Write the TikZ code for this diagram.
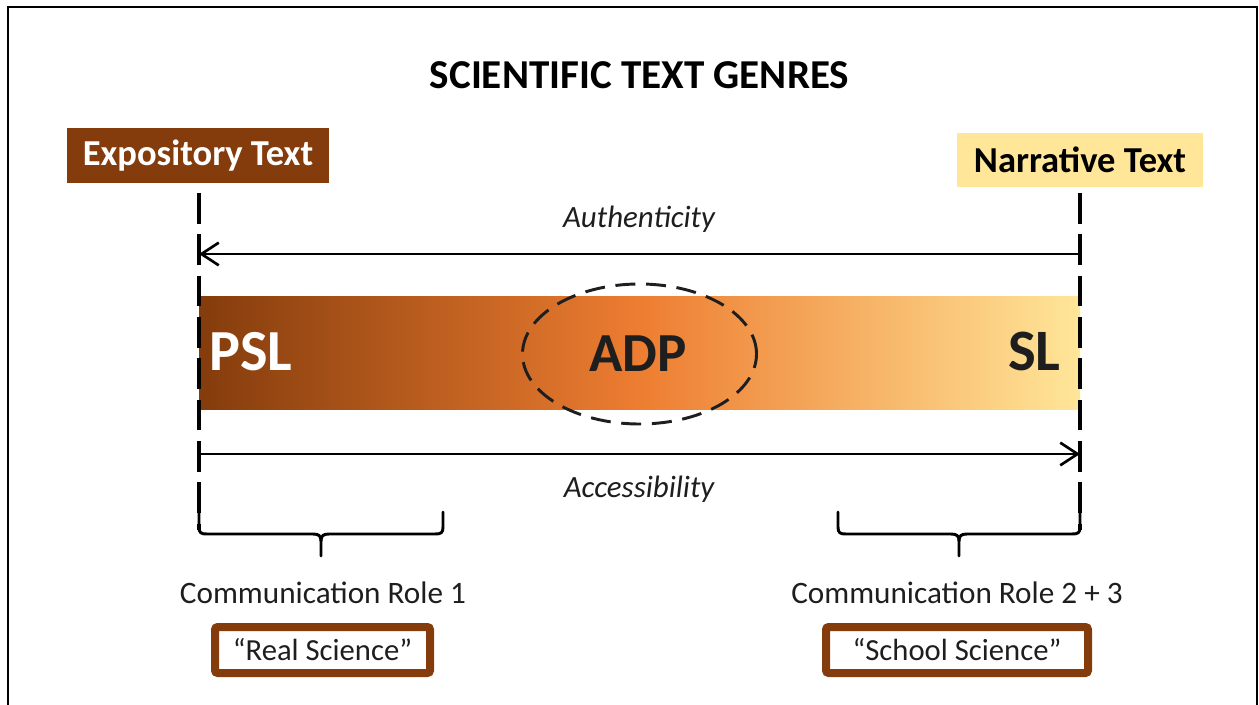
\documentclass[tikz,border=0pt]{standalone}
\usepackage{fontspec}
\setmainfont{Carlito}
\usetikzlibrary{arrows.meta,shapes.geometric}
\definecolor{brownD}{HTML}{843C0C}
\definecolor{orangeM}{HTML}{ED7D31}
\definecolor{yellowL}{HTML}{FFE699}
\definecolor{txtdark}{HTML}{1E1E1E}
\newcommand{\fs}[1]{\fontsize{#1}{#1}\selectfont}
\tikzset{
  vdash/.style={line width=2.6pt, dash pattern=on 23pt off 8pt},
  axisarrow/.style={line width=2pt, -{Straight Barb[length=13pt,width=17pt,line width=2pt]}},
  bracepath/.style={line width=2.2pt, line join=round, line cap=round},
  genrebox/.style={inner sep=0pt, font=\fs{27.4}\bfseries},
  rolelabel/.style={font=\fs{23.4}, text=txtdark, inner sep=0pt},
  scibox/.style={draw=brownD, line width=6pt, rounded corners=2pt, inner sep=0pt, font=\fs{23}, text=txtdark},
  axislabel/.style={font=\fs{23.2}\itshape, text=txtdark, inner sep=0pt},
  barlabel/.style={font=\fs{43.6}\bfseries, inner sep=0pt}
}
\begin{document}
\begin{tikzpicture}[x=0.75pt,y=-0.75pt]
\useasboundingbox (0,0) rectangle (1259,705);
% frame
\draw[line width=1.6pt] (8,720) -- (8,7) -- (1257,7) -- (1257,720);
% title
\node[anchor=base, inner sep=0pt, font=\fs{30.8}\bfseries] (title) at (639.5,89) {SCIENTIFIC TEXT GENRES};
% genre boxes
\node[genrebox, fill=brownD, text=white, minimum width=196.5pt, minimum height=41.25pt] (expo) at (198,155.5) {Expository Text};
\node[genrebox, fill=yellowL, text=black, minimum width=184.5pt, minimum height=40.5pt] (narr) at (1080,160) {Narrative Text};
% gradient bar
\node[inner sep=0pt, minimum width=660.75pt, minimum height=84.75pt, left color=brownD, right color=yellowL, middle color=orangeM, draw=none] (bar) at (639.5,353.5) {};
% dashed verticals
\coordinate (Ltop) at (199,193);
\coordinate (Lbot) at (199,530);
\coordinate (Rtop) at (1080,193);
\coordinate (Rbot) at (1080,530);
\draw[vdash] (Ltop) -- (Lbot);
\draw[vdash] (Rtop) -- (Rbot);
% bar labels
\node[barlabel, text=white, anchor=base west] (psl) at (209,371) {PSL};
\node[barlabel, font=\fs{44}\bfseries, text=txtdark, anchor=base east] (sl) at (1061,371) {SL};
\node[barlabel, font=\fs{41.3}\bfseries, text=txtdark, anchor=base] (adp) at (638,372) {ADP};
\node[draw=txtdark, line width=2.2pt, dash pattern=on 15pt off 8pt, ellipse, minimum width=175.5pt, minimum height=105pt, inner sep=0pt] (adpring) at (639.5,354) {};
% axis arrows
\coordinate (authR) at (1080,254);
\coordinate (authL) at (199,254);
\coordinate (accL) at (199,454);
\coordinate (accR) at (1080,454);
\draw[axisarrow] (authR) -- (authL);
\draw[axisarrow] (accL) -- (accR);
\node[axislabel, anchor=base] (auth) at (639,228) {Authenticity};
\node[axislabel, anchor=base] (acc) at (639,497) {Accessibility};
% braces
\coordinate (b1a) at (199,512);
\coordinate (b1b) at (443,512);
\coordinate (b1m) at (321,556);
\draw[bracepath] (b1a) -- (199,527) .. controls (199,533) and (201,534) .. (207,534) -- (313,534) .. controls (319,534) and (321,536) .. (321,541) -- (b1m);
\draw[bracepath] (b1b) -- (443,527) .. controls (443,533) and (441,534) .. (435,534) -- (329,534) .. controls (323,534) and (321,536) .. (321,541);
\coordinate (b2a) at (838,512);
\coordinate (b2b) at (1080,512);
\coordinate (b2m) at (959,556);
\draw[bracepath] (b2a) -- (838,527) .. controls (838,533) and (840,534) .. (846,534) -- (951,534) .. controls (957,534) and (959,536) .. (959,541) -- (b2m);
\draw[bracepath] (b2b) -- (1080,527) .. controls (1080,533) and (1078,534) .. (1072,534) -- (967,534) .. controls (961,534) and (959,536) .. (959,541);
% role labels
\node[rolelabel, anchor=base] (role1) at (323,603) {Communication Role 1};
\node[rolelabel, anchor=base] (role2) at (957,603) {Communication Role 2 + 3};
% science boxes
\node[scibox, minimum width=161.25pt, minimum height=34.5pt] (real) at (322.5,650) {“Real Science”};
\node[scibox, minimum width=196.5pt, minimum height=34.5pt] (school) at (957,650) {“School Science”};
\end{tikzpicture}
\end{document}
